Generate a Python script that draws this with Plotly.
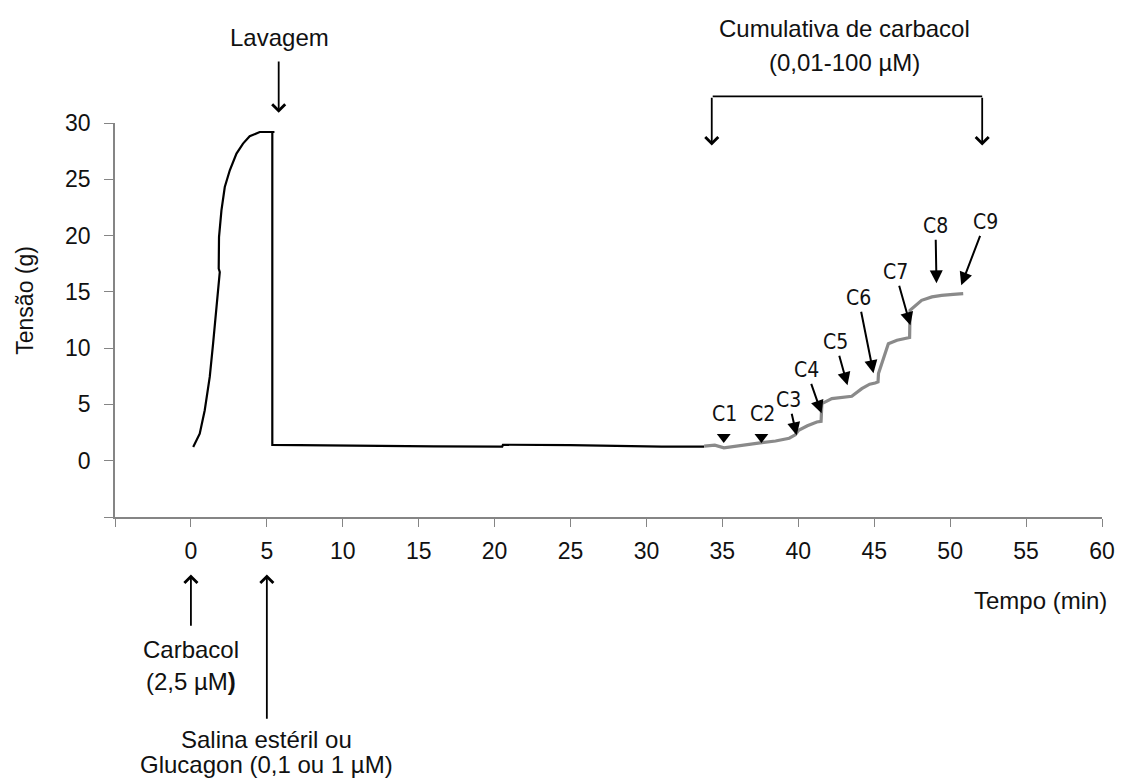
import plotly.graph_objects as go

# Recording of muscle tension (g) over time (min)
# Contraction to carbachol, washout and baseline (black trace)
base_t = [0.15, 0.58, 0.91, 1.24, 1.46, 1.68, 1.90,
          1.83, 1.85, 2.01, 2.23, 2.56, 3.00, 3.43, 3.87, 4.53, 5.50,
          5.36, 5.36,
          8.0, 12.0, 16.0, 20.5, 20.55, 25.0, 28.0, 31.0, 33.8]
base_v = [1.22, 2.40, 4.48, 7.44, 10.40, 13.65, 16.76,
          17.06, 19.87, 22.24, 24.31, 25.80, 27.28, 28.17, 28.82, 29.20, 29.20,
          29.20, 1.40,
          1.36, 1.30, 1.27, 1.26, 1.42, 1.38, 1.31, 1.26, 1.25]

# Cumulative carbachol concentration-response (grey trace)
cum_t = [33.8, 34.5, 35.1, 35.6, 36.5, 37.6, 38.5, 39.4, 39.8, 40.02,
         40.6, 41.22, 41.5, 41.55, 42.21, 43.0, 43.52, 44.18, 44.7, 45.06,
         45.25, 45.28, 45.6, 45.93, 46.5, 47.03, 47.33, 47.36, 47.8, 48.12,
         48.8, 49.44, 50.2, 50.86]
cum_v = [1.30, 1.38, 1.15, 1.25, 1.45, 1.60, 1.75, 2.00, 2.30, 2.70,
         3.10, 3.44, 3.50, 5.07, 5.52, 5.65, 5.72, 6.40, 6.80, 6.90,
         7.00, 7.74, 9.00, 10.40, 10.70, 10.85, 10.95, 13.36, 13.90, 14.25,
         14.55, 14.69, 14.78, 14.84]

# Doses marked with triangles
tri_labels = ["C1", "C2"]
tri_t = [35.09, 37.57]
tri_v = [2.10, 2.10]

# Doses marked with arrows: label, time and tension at the arrow tip
arrow_labels = ["C3", "C4", "C5", "C6", "C7", "C8", "C9"]
arrow_t = [39.89, 41.53, 43.24, 44.95, 47.38, 49.10, 50.73]
arrow_v = [2.26, 4.21, 6.71, 7.77, 12.03, 15.76, 15.58]
arrow_dx = [-8, -15, -12, -15, -15, -1, 24]
arrow_dy = [-35, -43, -43, -75, -53, -57, -63]

x_ticks = list(range(-5, 61, 5))
y_ticks = list(range(-5, 31, 5))

X0, X1 = -5, 60
Y0, Y1 = -5, 30
W, H = 1127, 782
ML, MR, MT, MB = 115, 23, 123, 265
PW, PH = W - ML - MR, H - MT - MB

FONT = "Liberation Sans, Arial, sans-serif"
NARROW = "Liberation Sans Narrow, Arial Narrow, DejaVu Sans Condensed, sans-serif"
TXT = "#111111"
AX = "#858585"


def xp(t):
    return (t - X0) / (X1 - X0)


def yp(v):
    return (v - Y0) / (Y1 - Y0)


def dpx(dt):
    return dt * PW / (X1 - X0)


def dpy(dv):
    return -dv * PH / (Y1 - Y0)


fig = go.Figure()
fig.add_trace(go.Scatter(x=base_t, y=base_v, mode="lines",
                         line=dict(color="#000000", width=2.2),
                         hoverinfo="skip", showlegend=False))
fig.add_trace(go.Scatter(x=cum_t, y=cum_v, mode="lines",
                         line=dict(color="#8a8a8a", width=3.2),
                         hoverinfo="skip", showlegend=False))
fig.add_trace(go.Scatter(x=tri_t, y=tri_v, mode="markers",
                         marker=dict(symbol="triangle-down", size=12, color="#000000"),
                         hoverinfo="skip", showlegend=False))

ann = []


def text(t, v, s, size=24, angle=0, family=FONT):
    ann.append(dict(x=xp(t), y=yp(v), xref="paper", yref="paper", text=s,
                    showarrow=False, textangle=angle,
                    xanchor="center", yanchor="middle",
                    font=dict(family=family, size=size, color=TXT)))


def arrow(t0, v0, t1, v1, head=4, width=1.8, size=1.4):
    ann.append(dict(x=xp(t1), y=yp(v1), xref="paper", yref="paper",
                    ax=dpx(t0 - t1), ay=dpy(v0 - v1),
                    axref="pixel", ayref="pixel", text="", showarrow=True,
                    arrowhead=head, arrowwidth=width, arrowsize=size,
                    arrowcolor="#000000", standoff=0, startstandoff=0))


# Washout
text(5.84, 37.6, "Lavagem")
arrow(5.78, 35.6, 5.78, 30.9)

# Cumulative carbachol bracket
text(43.05, 38.4, "Cumulativa de carbacol")
text(43.05, 35.4, "(0,01-100 µM)")
arrow(34.30, 32.37, 52.11, 32.37, head=0)
arrow(34.30, 32.37, 34.30, 28.0)
arrow(52.11, 32.37, 52.11, 28.0)

# Additions below the time axis
arrow(0, -14.8, 0, -10.1)
text(0, -16.75, "Carbacol")
text(0, -19.6, "(2,5 µM<b>)</b>")
arrow(5, -23.06, 5, -10.1)
text(5, -24.75, "Salina estéril ou")
text(5, -27.0, "Glucagon (0,1 ou 1 µM)")

# Axis titles
text(55.96, -12.44, "Tempo (min)")
text(-10.9, 14.25, "Tensão (g)", size=23, angle=-90)

# Dose labels
for lab, t in zip(tri_labels, tri_t):
    ann.append(dict(x=t + 0.05, y=4.18, xref="x", yref="y", text=lab,
                    showarrow=False,
                    font=dict(family=NARROW, size=21, color=TXT)))
for lab, t, v, dx, dy in zip(arrow_labels, arrow_t, arrow_v, arrow_dx, arrow_dy):
    ann.append(dict(x=t, y=v, xref="x", yref="y", ax=dx, ay=dy, text=lab,
                    showarrow=True, arrowhead=2, arrowwidth=2, arrowsize=1.3,
                    arrowcolor="#000000", standoff=0,
                    font=dict(family=NARROW, size=21, color=TXT)))

fig.update_layout(
    width=W, height=H, autosize=False,
    margin=dict(l=ML, r=MR, t=MT, b=MB, pad=0),
    paper_bgcolor="white", plot_bgcolor="white",
    font=dict(family=FONT, color=TXT),
    annotations=ann,
)
fig.update_xaxes(range=[X0, X1], tickvals=x_ticks,
                 ticktext=["" if v < 0 else str(v) for v in x_ticks],
                 ticks="outside", ticklen=8, tickwidth=1.3, tickcolor=AX,
                 showline=True, linecolor=AX, linewidth=1.5,
                 showgrid=False, zeroline=False, ticklabelstandoff=5,
                 tickfont=dict(family=FONT, size=23, color=TXT))
fig.update_yaxes(range=[Y0, Y1], tickvals=y_ticks,
                 ticktext=["" if v < 0 else str(v) for v in y_ticks],
                 ticks="outside", ticklen=9, tickwidth=1.3, tickcolor=AX,
                 showline=True, linecolor=AX, linewidth=1.5,
                 showgrid=False, zeroline=False, ticklabelstandoff=9,
                 tickfont=dict(family=FONT, size=23, color=TXT))

fig.write_html("out.html")
